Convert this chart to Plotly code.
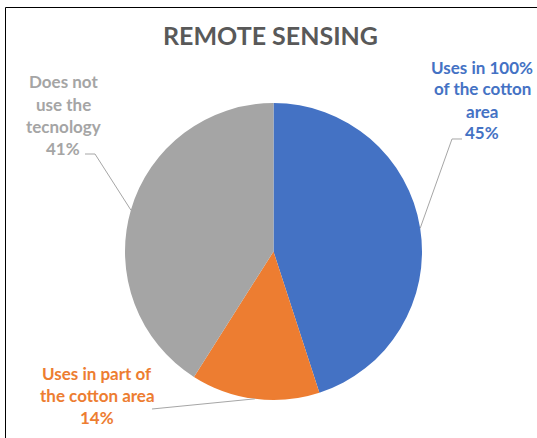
import math
import plotly.graph_objects as go

labels = ["Uses in 100% of the cotton area", "Uses in part of the cotton area", "Does not use the tecnology"]
values = [45, 14, 41]
label_lines = [["Uses in 100%", "of the cotton", "area", "45%"],
               ["Uses in part of", "the cotton area", "14%"],
               ["Does not", "use the", "tecnology", "41%"]]
colors = ["#4472C4", "#ED7D31", "#A5A5A5"]
title = "REMOTE SENSING"

W, H = 537, 438
cx, cy, r = 273.5, 251.5, 148.5

def px(x):
    return x / W

def py(y):
    return 1 - y / H

fig = go.Figure()
fig.add_trace(go.Pie(
    labels=labels, values=values, sort=False, direction="clockwise", rotation=0,
    marker=dict(colors=colors, line=dict(width=0)),
    textinfo="none", hoverinfo="label+percent", showlegend=False,
    domain=dict(x=[px(cx - r), px(cx + r)], y=[py(cy + r), py(cy - r)]),
))

# label placements (layout): text center x, first-line y, line spacing, elbow point, elbow end
label_pos = [
    dict(x=482, y=67, dy=22, elbow=(452, 139), end=(462, 139)),
    dict(x=97, y=373, dy=22, elbow=None, end=(152, 409)),
    dict(x=63, y=82, dy=22, elbow=(95, 154), end=(85, 154)),
]

total = sum(values)
start = 0.0
shapes = []
annotations = []
for i, v in enumerate(values):
    frac = v / total
    mid = (start + frac / 2) * 2 * math.pi
    start += frac
    ex = cx + r * math.sin(mid)
    ey = cy - r * math.cos(mid)
    lp = label_pos[i]
    pts = [(ex, ey)]
    if lp["elbow"]:
        pts.append(lp["elbow"])
    pts.append(lp["end"])
    path = "M " + " L ".join(f"{px(a):.5f},{py(b):.5f}" for a, b in pts)
    shapes.append(dict(type="path", xref="paper", yref="paper", path=path,
                       line=dict(color="#A6A6A6", width=1)))
    for j, t in enumerate(label_lines[i]):
        annotations.append(dict(
            x=px(lp["x"]), y=py(lp["y"] + j * lp["dy"]), xref="paper", yref="paper",
            text=f"<b>{t}</b>", showarrow=False, xanchor="center", yanchor="middle",
            font=dict(family="Lato", size=17, color=colors[i])))

annotations.append(dict(x=px(270), y=py(35), xref="paper", yref="paper",
                        text=f"<b>{title}</b>", showarrow=False, xanchor="center", yanchor="middle",
                        font=dict(family="Lato", size=25, color="#595959")))

# chart border (left and top edges visible in the crop)
shapes.append(dict(type="line", xref="paper", yref="paper",
                   x0=px(5.5), y0=py(438), x1=px(5.5), y1=py(7.5),
                   line=dict(color="#000000", width=1), layer="below"))
shapes.append(dict(type="line", xref="paper", yref="paper",
                   x0=px(5.5), y0=py(7.5), x1=px(537), y1=py(7.5),
                   line=dict(color="#000000", width=1), layer="below"))

fig.update_layout(width=W, height=H, margin=dict(l=0, r=0, t=0, b=0),
                  paper_bgcolor="white", plot_bgcolor="white",
                  shapes=shapes, annotations=annotations)
fig.write_html("out.html", config={"displayModeBar": False},
               post_script=("document.documentElement.style.overflow='hidden';"
                            "document.body.style.margin='0';document.body.style.overflow='hidden';"))
